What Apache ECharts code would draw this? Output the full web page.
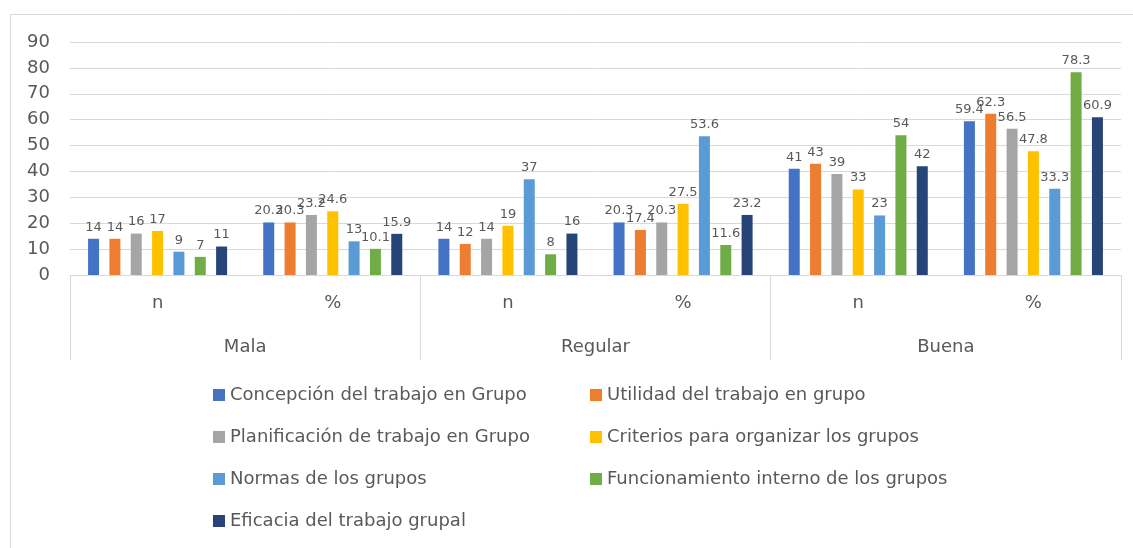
<!DOCTYPE html>
<html>
<head>
<meta charset="utf-8">
<script src="https://cdn.jsdelivr.net/npm/echarts@6/dist/echarts.min.js"></script>
<style>
  html, body { margin: 0; padding: 0; background: #fff; }
  #chart { width: 1133px; height: 548px; }
</style>
</head>
<body>
<div id="chart"></div>
<script>
var subCategories = ['n', '%', 'n', '%', 'n', '%'];
var groups = ['Mala', 'Regular', 'Buena'];
var yTicks = { min: 0, max: 90, interval: 10 };

var seriesNames = [
    'Concepción del trabajo en Grupo',
    'Utilidad del trabajo en grupo',
    'Planificación de trabajo en Grupo',
    'Criterios para organizar los grupos',
    'Normas de los grupos',
    'Funcionamiento interno de los grupos',
    'Eficacia del trabajo grupal'
];
// values per series: Mala n, Mala %, Regular n, Regular %, Buena n, Buena %
var concepcion    = [14, 20.3, 14, 20.3, 41, 59.4];
var utilidad      = [14, 20.3, 12, 17.4, 43, 62.3];
var planificacion = [16, 23.2, 14, 20.3, 39, 56.5];
var criterios     = [17, 24.6, 19, 27.5, 33, 47.8];
var normas        = [9, 13, 37, 53.6, 23, 33.3];
var funcionamiento = [7, 10.1, 8, 11.6, 54, 78.3];
var eficacia      = [11, 15.9, 16, 23.2, 42, 60.9];

var seriesData = [concepcion, utilidad, planificacion, criterios, normas, funcionamiento, eficacia];
var colors = ['#4472C4', '#ED7D31', '#A5A5A5', '#FFC000', '#5B9BD5', '#70AD47', '#264478'];

var font = 'DejaVu Sans';
var textColor = '#595959';
var lineColor = '#d9d9d9';

var chart = echarts.init(document.getElementById('chart'));

var series = seriesNames.map(function (name, i) {
    return {
        name: name,
        type: 'bar',
        xAxisIndex: 0,
        barWidth: 11,
        barGap: '94%',
        itemStyle: { color: colors[i] },
        label: {
            show: true,
            position: 'top',
            distance: 5,
            color: textColor,
            fontFamily: font,
            fontSize: 13
        },
        data: seriesData[i]
    };
});

var legendBase = {
    orient: 'vertical',
    top: 386,
    height: 200,
    padding: 0,
    itemWidth: 12,
    itemHeight: 12,
    itemGap: 24,
    icon: 'rect',
    textStyle: { color: textColor, fontFamily: font, fontSize: 18 }
};

var option = {
    animation: false,
    color: colors,
    graphic: [{
        type: 'rect',
        shape: { x: 10.5, y: 14.5, width: 1200, height: 600 },
        style: { fill: 'none', stroke: lineColor, lineWidth: 1 },
        silent: true
    }],
    grid: {
        left: 70,
        right: 12,
        top: 42,
        bottom: 273,
        containLabel: false
    },
    legend: [
        Object.assign({}, legendBase, {
            left: 213,
            data: [seriesNames[0], seriesNames[2], seriesNames[4], seriesNames[6]]
        }),
        Object.assign({}, legendBase, {
            left: 590,
            data: [seriesNames[1], seriesNames[3], seriesNames[5]]
        })
    ],
    xAxis: [{
        type: 'category',
        data: subCategories,
        position: 'bottom',
        axisLine: { show: true, lineStyle: { color: lineColor } },
        axisTick: { show: false },
        axisLabel: {
            color: textColor,
            fontFamily: font,
            fontSize: 18,
            margin: 19
        }
    }, {
        type: 'category',
        data: groups,
        position: 'bottom',
        axisLine: { show: false },
        axisTick: {
            show: true,
            length: 85,
            lineStyle: { color: lineColor }
        },
        axisLabel: {
            color: textColor,
            fontFamily: font,
            fontSize: 18,
            margin: 63
        }
    }],
    yAxis: {
        type: 'value',
        min: yTicks.min,
        max: yTicks.max,
        interval: yTicks.interval,
        axisLine: { show: false },
        axisTick: { show: false },
        splitLine: { lineStyle: { color: lineColor } },
        axisLabel: {
            color: textColor,
            fontFamily: font,
            fontSize: 18,
            margin: 20
        }
    },
    series: series
};

chart.setOption(option);
</script>
</body>
</html>
